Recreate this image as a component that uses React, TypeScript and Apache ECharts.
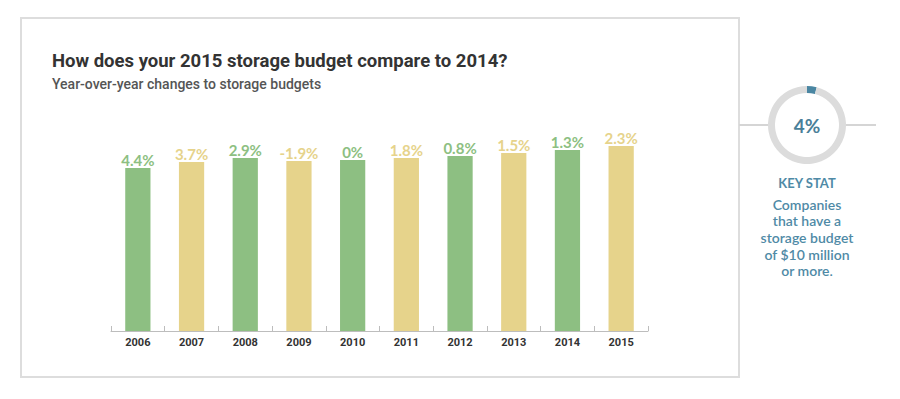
import React, { useEffect, useRef } from "react";
import * as echarts from "echarts";

const years = ["2006", "2007", "2008", "2009", "2010", "2011", "2012", "2013", "2014", "2015"];
const changeLabels = ["4.4%", "3.7%", "2.9%", "-1.9%", "0%", "1.8%", "0.8%", "1.5%", "1.3%", "2.3%"];
const barHeights = [163, 169, 173, 170, 171, 173, 175, 178, 181, 185];
const keyStatValue = 4;
const keyStatLabel = "4%";
const keyStatLines = ["Companies", "that have a", "storage budget", "of $10 million", "or more."];

const GREEN = "#8dbf82";
const YELLOW = "#e6d38b";
const BLUE = "#4f8aa6";

export default function App() {
  const ref = useRef<HTMLDivElement>(null);
  useEffect(() => {
    if (!ref.current) return;
    const chart = echarts.init(ref.current, null, { renderer: "svg" });
    const colorAt = (i: number) => (i % 2 === 0 ? GREEN : YELLOW);
    chart.setOption({
      animation: false,
      backgroundColor: "#ffffff",
      grid: { left: 111, right: 252, top: 131, bottom: 68 },
      xAxis: {
        type: "category",
        data: years,
        axisLine: { lineStyle: { color: "#bdbdbd", width: 1 } },
        axisTick: { show: true, inside: true, length: 5, lineStyle: { color: "#bdbdbd" } },
        axisLabel: { color: "#333333", fontFamily: "Roboto", fontWeight: "bold", fontSize: 11, margin: 6 },
      },
      yAxis: { type: "value", min: 0, max: 200, show: false, splitLine: { show: false } },
      series: [
        {
          type: "bar",
          barWidth: "47%",
          data: barHeights.map((v, i) => ({
            value: v,
            itemStyle: { color: colorAt(i) },
            label: { color: colorAt(i) },
          })),
          label: {
            show: true,
            position: "top",
            distance: 1,
            fontFamily: "Lato",
            fontWeight: "bold",
            fontSize: 15,
            formatter: (p: any) => changeLabels[p.dataIndex],
          },
        },
        {
          type: "pie",
          center: [807, 125],
          radius: [32, 39],
          startAngle: 90,
          clockwise: true,
          silent: true,
          label: { show: false },
          labelLine: { show: false },
          data: [
            { value: keyStatValue, itemStyle: { color: "#4a86a2" } },
            { value: 100 - keyStatValue, itemStyle: { color: "#dcdcdc" } },
          ],
        },
      ],
      graphic: [
        {
          type: "rect",
          shape: { x: 21, y: 18, width: 718, height: 359 },
          style: { fill: "none", stroke: "#dddddd", lineWidth: 2 },
          z: 0,
        },
        {
          type: "line",
          shape: { x1: 739, y1: 125, x2: 768, y2: 125 },
          style: { stroke: "#d5d5d5", lineWidth: 2 },
        },
        {
          type: "line",
          shape: { x1: 846, y1: 125, x2: 876, y2: 125 },
          style: { stroke: "#d5d5d5", lineWidth: 2 },
        },
        {
          type: "text",
          x: 52,
          y: 61,
          style: {
            text: "How does your 2015 storage budget compare to 2014?",
            fill: "#333333",
            fontFamily: "Roboto",
            fontWeight: "bold",
            fontSize: 18.5,
            textVerticalAlign: "middle",
          },
        },
        {
          type: "text",
          x: 52,
          y: 84,
          style: {
            text: "Year-over-year changes to storage budgets",
            fill: "#555555",
            fontFamily: "Roboto",
            fontWeight: 500,
            fontSize: 14,
            textVerticalAlign: "middle",
          },
        },
        {
          type: "text",
          x: 807,
          y: 125,
          style: {
            text: keyStatLabel,
            fill: "#4a7f99",
            fontFamily: "Lato",
            fontWeight: "bold",
            fontSize: 19,
            textAlign: "center",
            textVerticalAlign: "middle",
          },
        },
        {
          type: "text",
          x: 807,
          y: 183,
          style: {
            text: "KEY STAT",
            fill: BLUE,
            fontFamily: "Lato",
            fontWeight: "bold",
            fontSize: 13,
            textAlign: "center",
            textVerticalAlign: "middle",
          },
        },
        {
          type: "text",
          x: 807,
          y: 196,
          style: {
            text: keyStatLines.join("\n"),
            fill: BLUE,
            fontFamily: "Lato",
            fontWeight: 600,
            fontSize: 14,
            lineHeight: 16.6,
            textAlign: "center",
          },
        },
      ],
    });
    return () => chart.dispose();
  }, []);
  return (
    <div
      ref={ref}
      style={{ position: "absolute", left: 0, top: 0, width: 900, height: 399 }}
    />
  );
}
